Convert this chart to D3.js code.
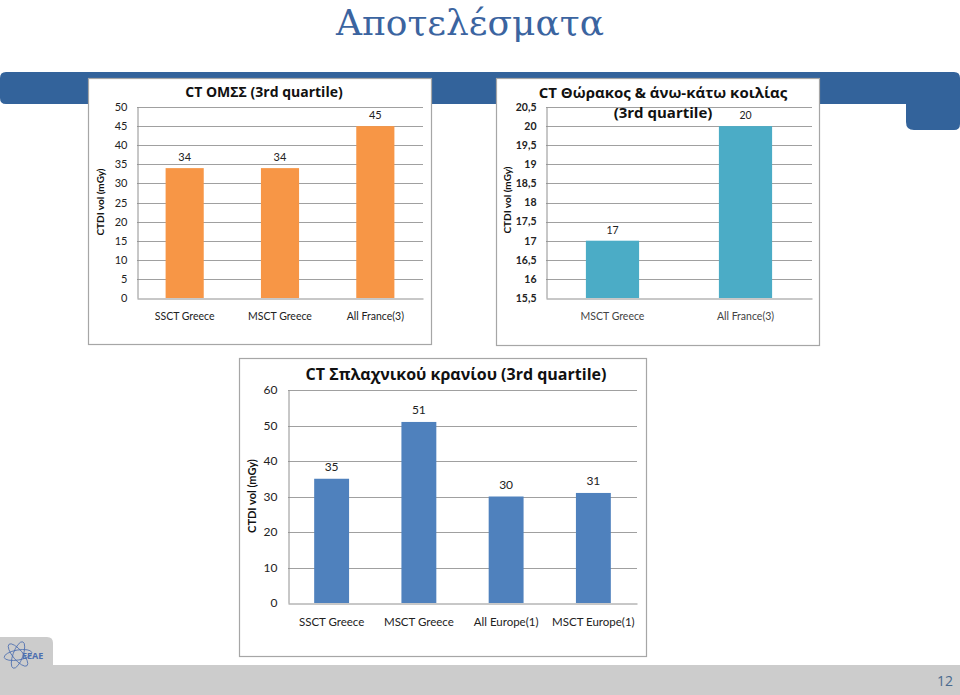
<!DOCTYPE html>
<html><head><meta charset="utf-8">
<script src="https://cdn.jsdelivr.net/npm/d3@7"></script>
<style>
html,body{margin:0;padding:0;background:#fff;}
svg{display:block;}
</style></head>
<body>
<svg id="slide" width="960" height="695"></svg>
<script>
// ---- data ----
const omssCategories = ["SSCT Greece", "MSCT Greece", "All France(3)"];
const omssValues = [34, 34, 45];
const omssTicks = [0, 5, 10, 15, 20, 25, 30, 35, 40, 45, 50];

const thoraxCategories = ["MSCT Greece", "All France(3)"];
const thoraxValues = [17, 20];
const thoraxTicks = [15.5, 16, 16.5, 17, 17.5, 18, 18.5, 19, 19.5, 20, 20.5];

const skullCategories = ["SSCT Greece", "MSCT Greece", "All Europe(1)", "MSCT Europe(1)"];
const skullValues = [35, 51, 30, 31];
const skullTicks = [0, 10, 20, 30, 40, 50, 60];

const svg = d3.select("#slide");
const FONT = "Lato, 'Open Sans', sans-serif";
const TFONT = "'Open Sans', 'Noto Sans', sans-serif";

// ---- slide decoration ----
svg.append("text").attr("x", 470).attr("y", 35).attr("text-anchor", "middle")
  .attr("font-family", "'DejaVu Serif', 'Liberation Serif', serif")
  .attr("font-size", 36).attr("fill", "#3b64a0").text("Αποτελέσματα");

svg.append("path")
  .attr("d", "M6,72 H954 Q960,72 960,78 V124 Q960,130 954,130 H914 Q906,130 906,122 V104 H6 Q0,104 0,98 V78 Q0,72 6,72 Z")
  .attr("fill", "#33639b");

svg.append("path")
  .attr("d", "M0,637 H47 Q53,637 53,643 V665 H960 V695 H0 Z")
  .attr("fill", "#cccccc");
svg.append("text").attr("x", 953).attr("y", 686).attr("text-anchor", "end")
  .attr("font-family", TFONT).attr("font-size", 14).attr("fill", "#4a6a8e").text("12");
const logo = svg.append("g").attr("transform", "translate(18,655)");
[0, 60, 120].forEach(a => logo.append("ellipse").attr("rx", 5).attr("ry", 14)
  .attr("transform", `rotate(${a + 20})`).attr("fill", "none").attr("stroke", "#4d6fb0").attr("stroke-width", 0.8));
logo.append("text").attr("x", 4).attr("y", 4).attr("font-family", TFONT).attr("font-size", 9)
  .attr("font-weight", "bold").attr("fill", "#4d6fb0").text("ΕΕΑΕ");

// ---- generic bar chart ----
function barChart(o) {
  const g = svg.append("g");
  g.append("rect").attr("x", o.box[0] + 0.5).attr("y", o.box[1] + 0.5)
    .attr("width", o.box[2] - o.box[0]).attr("height", o.box[3] - o.box[1])
    .attr("fill", "#fff").attr("stroke", "#a6a6a6").attr("stroke-width", 1.2);

  const x = d3.scaleBand().domain(o.categories).range([o.plot[0], o.plot[2]]).paddingInner(0.6).paddingOuter(0.3);
  const y = d3.scaleLinear().domain([o.ticks[0], o.ticks[o.ticks.length - 1]]).range([o.plot[3], o.plot[1]]);

  g.append("g").selectAll("line").data(o.ticks.slice(1)).join("line")
    .attr("x1", o.plot[0]).attr("x2", o.plot[2])
    .attr("y1", d => Math.round(y(d)) + 0.5).attr("y2", d => Math.round(y(d)) + 0.5)
    .attr("stroke", "#a0a0a0").attr("stroke-width", 1);

  const ya = d3.axisLeft(y).tickValues(o.ticks).tickSize(0).tickPadding(o.tickPad)
    .tickFormat(o.fmt || (d => d));
  const yg = g.append("g").attr("transform", `translate(${o.plot[0] + 0.5},0)`).call(ya);
  yg.select(".domain").attr("stroke", "#909090");
  yg.selectAll("text").attr("font-family", FONT).attr("font-size", o.tickSize).attr("fill", "#222")
    .attr("font-weight", o.tickBold ? "bold" : "normal");

  g.append("g").selectAll("rect").data(o.values).join("rect")
    .attr("x", (d, i) => x(o.categories[i])).attr("width", x.bandwidth())
    .attr("y", d => y(d)).attr("height", d => y(o.ticks[0]) - y(d))
    .attr("fill", o.color);

  const xa = d3.axisBottom(x).tickSize(0).tickPadding(o.catPad);
  const xg = g.append("g").attr("transform", `translate(0,${Math.round(o.plot[3]) + 0.5})`).call(xa);
  xg.select(".domain").attr("stroke", "#909090");
  xg.selectAll("text").attr("font-family", FONT).attr("font-size", o.catSize).attr("fill", o.catColor || "#222");

  g.append("g").selectAll("text").data(o.values).join("text")
    .attr("x", (d, i) => x(o.categories[i]) + x.bandwidth() / 2)
    .attr("y", d => y(d) - o.labelGap).attr("text-anchor", "middle")
    .attr("font-family", FONT).attr("font-size", o.labelSize).attr("fill", "#222").text(d => d);

  g.append("text").attr("transform", `translate(${o.ylabX},${o.ylabY}) rotate(-90)`)
    .attr("text-anchor", "middle").attr("font-family", FONT).attr("font-weight", "bold")
    .attr("font-size", o.ylabSize).attr("fill", "#111").text("CTDI vol (mGy)");

  o.title.forEach((t, i) => g.append("text").attr("x", o.titleX).attr("y", o.titleY + i * o.titleLine)
    .attr("text-anchor", "middle").attr("font-family", TFONT).attr("font-weight", "bold")
    .attr("font-size", o.titleSize).attr("fill", "#111").text(t));
}

barChart({
  box: [88, 78, 431, 344], plot: [137, 107, 423, 298],
  categories: omssCategories, values: omssValues, ticks: omssTicks,
  color: "#f79646", tickSize: 11, tickPad: 10, catSize: 10.5, catPad: 14, labelSize: 11, labelGap: 7,
  ylabX: 104, ylabY: 202, ylabSize: 10,
  title: ["CT ΟΜΣΣ (3rd quartile)"], titleX: 264, titleY: 97, titleLine: 0, titleSize: 14
});

barChart({
  box: [496, 78, 819, 345], plot: [546, 107, 812, 298],
  categories: thoraxCategories, values: thoraxValues, ticks: thoraxTicks,
  fmt: d => String(d).replace(".", ","), tickBold: true, catColor: "#444",
  color: "#4bacc6", tickSize: 10.5, tickPad: 10, catSize: 10.5, catPad: 14, labelSize: 10.5, labelGap: 7,
  ylabX: 511, ylabY: 200, ylabSize: 10,
  title: ["CT Θώρακος & άνω-κάτω  κοιλίας", "(3rd quartile)"], titleX: 663, titleY: 98, titleLine: 20, titleSize: 15
});

barChart({
  box: [239, 358, 646, 656], plot: [288, 390, 637, 603],
  categories: skullCategories, values: skullValues, ticks: skullTicks,
  color: "#4f81bd", tickSize: 12, tickPad: 11, catSize: 11.5, catPad: 14, labelSize: 12, labelGap: 8,
  ylabX: 256, ylabY: 496, ylabSize: 11,
  title: ["CT Σπλαχνικού κρανίου  (3rd quartile)"], titleX: 456, titleY: 380, titleLine: 0, titleSize: 16
});
</script>
</body></html>
